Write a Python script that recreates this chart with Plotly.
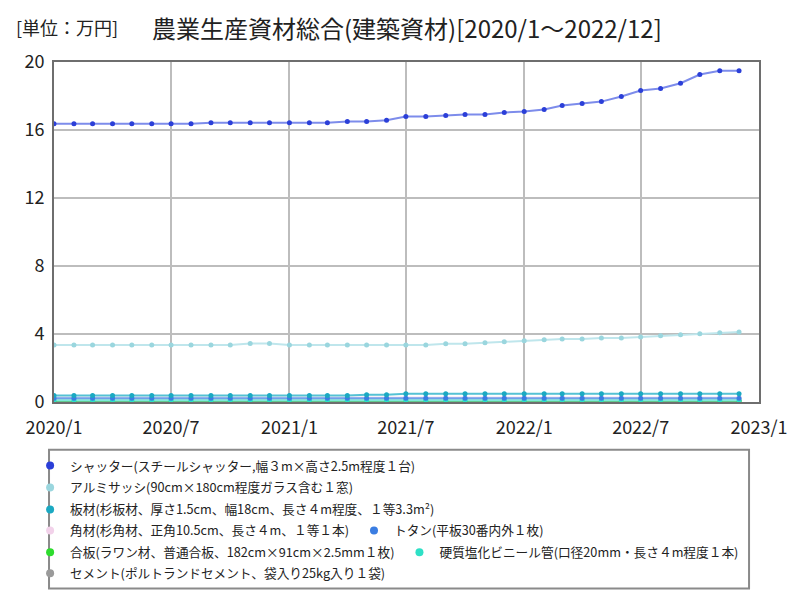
import plotly.graph_objects as go

# ---- data ----
months = [f"{y}-{m:02d}-01" for y in (2020, 2021, 2022) for m in range(1, 13)]

shutter = [16.37]*8 + [16.43]*7 + [16.50, 16.50, 16.58, 16.79, 16.79, 16.85, 16.91, 16.91,
           17.03, 17.09, 17.20, 17.44, 17.56, 17.67, 17.97, 18.32, 18.44, 18.75, 19.26, 19.49, 19.49]
alumi = [3.36]*10 + [3.44, 3.44] + [3.36]*8 + [3.42, 3.42, 3.48, 3.54, 3.60, 3.66, 3.71, 3.71,
         3.77, 3.77, 3.83, 3.89, 3.95, 4.01, 4.07, 4.12]
itazai = [0.38]*16 + [0.43, 0.43] + [0.49]*18
kakuzai = [0.27]*36
totan = [0.22]*36
gouhan = [0.08]*36
enbi = [0.10]*36
cement = [0.06]*36

names = [
    "シャッター(スチールシャッター,幅３m×高さ2.5m程度１台)",
    "アルミサッシ(90cm×180cm程度ガラス含む１窓)",
    "板材(杉板材、厚さ1.5cm、幅18cm、長さ４m程度、１等3.3m²)",
    "角材(杉角材、正角10.5cm、長さ４m、１等１本)",
    "トタン(平板30番内外１枚)",
    "合板(ラワン材、普通合板、182cm×91cm×2.5mm１枚)",
    "硬質塩化ビニール管(口径20mm・長さ４m程度１本)",
    "セメント(ポルトランドセメント、袋入り25kg入り１袋)",
]
series = [shutter, alumi, itazai, kakuzai, totan, gouhan, enbi, cement]
marker_colors = ["#2b3fd8", "#9ad6de", "#1ba9c2", "#f2d2ea", "#3a7de2", "#2edc2e", "#2ee0c6", "#9a9a9a"]
line_colors = ["#7d8ceb", "#bfe6ec", "#55c2d4", "#f5e0ef", "#6f9fea", "#3fbf5f", "#7eead9", "#b5b5b5"]
legend_ids = ["legend", "legend2", "legend3", "legend4", "legend4", "legend5", "legend5", "legend6"]

xticks = ["2020-01-01", "2020-07-01", "2021-01-01", "2021-07-01", "2022-01-01", "2022-07-01", "2023-01-01"]
xticktext = ["2020/1", "2020/7", "2021/1", "2021/7", "2022/1", "2022/7", "2023/1"]
yticks = [0, 4, 8, 12, 16, 20]

FONT = "Noto Sans CJK JP"

fig = go.Figure()
order = [7, 5, 6, 3, 4, 2, 1, 0]
for i in order:
    fig.add_trace(go.Scatter(
        x=months, y=series[i], mode="lines+markers", name=names[i],
        line=dict(color=line_colors[i], width=2),
        marker=dict(color=marker_colors[i], size=5),
        showlegend=False, hoverinfo="x+y+name",
    ))
for i in range(8):
    fig.add_trace(go.Scatter(
        x=[None], y=[None], mode="markers", name=names[i],
        marker=dict(color=marker_colors[i], size=8),
        legend=legend_ids[i], showlegend=True,
    ))

L, R, T, B = 54, 38, 62, 197
W, H = 800, 600
pw, ph = W - L - R, H - T - B

def px(X):
    return (X - L) / pw

def py(Y):
    return (T + ph - Y) / ph

leg_rows = [467, 489, 511, 532, 554, 575]
leg_common = dict(orientation="h", xanchor="left", yanchor="middle",
                  bgcolor="rgba(0,0,0,0)", borderwidth=0,
                  font=dict(family=FONT, size=12.7, color="#222"),
                  itemclick=False, itemdoubleclick=False, tracegroupgap=0)
legends = {}
for k, yrow in enumerate(leg_rows):
    key = "legend" if k == 0 else f"legend{k+1}"
    legends[key] = dict(x=px(30), y=py(yrow), **leg_common)

fig.update_layout(
    width=W, height=H,
    margin=dict(l=L, r=R, t=T, b=B),
    paper_bgcolor="white", plot_bgcolor="white",
    font=dict(family=FONT, color="#222"),
    xaxis=dict(
        type="date", range=["2020-01-01", "2023-01-01"],
        tickvals=xticks, ticktext=xticktext,
        tickfont=dict(family=FONT, size=18, color="#222"),
        ticklabelstandoff=8,
        showgrid=True, gridcolor="#bdbdbd", gridwidth=1.5,
        showline=True, linecolor="#6e6e6e", linewidth=2, mirror=True,
        ticks="", zeroline=False, fixedrange=True,
    ),
    yaxis=dict(
        range=[0, 20], tickvals=yticks,
        tickfont=dict(family=FONT, size=18, color="#222"),
        ticklabelstandoff=4,
        showgrid=True, gridcolor="#bdbdbd", gridwidth=1.5,
        showline=True, linecolor="#6e6e6e", linewidth=2, mirror=True,
        ticks="", zeroline=False, fixedrange=True,
    ),
    showlegend=True,
    **legends,
    shapes=[dict(type="rect", xref="paper", yref="paper",
                 x0=px(49), x1=px(752), y0=py(590), y1=py(451),
                 line=dict(color="#8a8a8a", width=2), fillcolor="rgba(0,0,0,0)")],
    annotations=[
        dict(text="[単位：万円]", xref="paper", yref="paper", x=px(14), y=py(27),
             xanchor="left", yanchor="middle", showarrow=False,
             font=dict(family=FONT, size=18, color="#222")),
        dict(text="農業生産資材総合(建築資材)[2020/1～2022/12]", xref="paper", yref="paper",
             x=px(150), y=py(27), xanchor="left", yanchor="middle", showarrow=False,
             font=dict(family=FONT, size=24, color="#222")),
    ],
)

fig.write_html("out.html")
